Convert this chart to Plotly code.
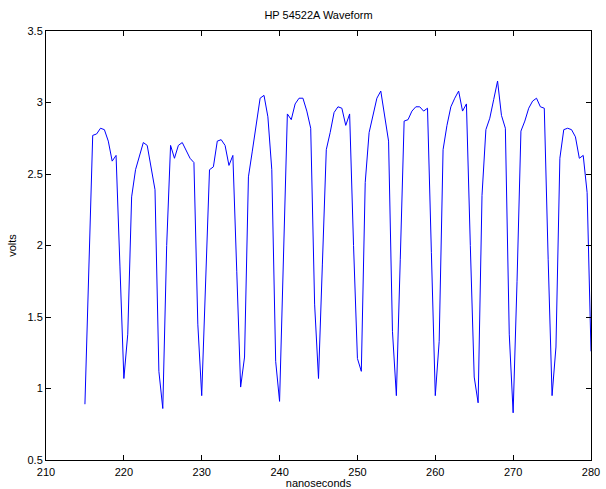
import plotly.graph_objects as go

time_ns = [
    215.0, 215.5, 216.0, 216.5, 217.0, 217.5, 218.0, 218.5, 219.0, 219.5,
    220.0, 220.5, 221.0, 221.5, 222.0, 222.5, 223.0, 223.5, 224.0, 224.5,
    225.0, 225.5, 226.0, 226.5, 227.0, 227.5, 228.0, 228.5, 229.0, 229.5,
    230.0, 230.5, 231.0, 231.5, 232.0, 232.5, 233.0, 233.5, 234.0, 234.5,
    235.0, 235.5, 236.0, 236.5, 237.0, 237.5, 238.0, 238.5, 239.0, 239.5,
    240.0, 240.5, 241.0, 241.5, 242.0, 242.5, 243.0, 243.5, 244.0, 244.5,
    245.0, 245.5, 246.0, 246.5, 247.0, 247.5, 248.0, 248.5, 249.0, 249.5,
    250.0, 250.5, 251.0, 251.5, 252.0, 252.5, 253.0, 253.5, 254.0, 254.5,
    255.0, 255.5, 256.0, 256.5, 257.0, 257.5, 258.0, 258.5, 259.0, 259.5,
    260.0, 260.5, 261.0, 261.5, 262.0, 262.5, 263.0, 263.5, 264.0, 264.5,
    265.0, 265.5, 266.0, 266.5, 267.0, 267.5, 268.0, 268.5, 269.0, 269.5,
    270.0, 270.5, 271.0, 271.5, 272.0, 272.5, 273.0, 273.5, 274.0, 274.5,
    275.0, 275.5, 276.0, 276.5, 277.0, 277.5, 278.0, 278.5, 279.0, 279.5,
    280.0,
]

volts = [
    0.89, 1.90, 2.77, 2.78, 2.82, 2.81, 2.73, 2.59, 2.63, 1.85,
    1.07, 1.38, 2.34, 2.53, 2.63, 2.72, 2.70, 2.54, 2.39, 1.12,
    0.86, 2.00, 2.70, 2.61, 2.70, 2.72, 2.67, 2.61, 2.58, 1.45,
    0.95, 1.70, 2.53, 2.55, 2.73, 2.74, 2.70, 2.56, 2.63, 1.82,
    1.01, 1.22, 2.48, 2.66, 2.84, 3.03, 3.05, 2.90, 2.53, 1.19,
    0.91, 1.91, 2.92, 2.88, 2.99, 3.03, 3.03, 2.94, 2.82, 1.59,
    1.07, 1.87, 2.67, 2.79, 2.93, 2.97, 2.96, 2.84, 2.92, 2.00,
    1.21, 1.12, 2.44, 2.79, 2.90, 3.03, 3.08, 2.90, 2.73, 1.40,
    0.95, 1.90, 2.87, 2.88, 2.94, 2.97, 2.97, 2.94, 2.96, 1.95,
    0.95, 1.33, 2.67, 2.84, 2.97, 3.03, 3.08, 2.94, 2.99, 2.00,
    1.08, 0.90, 2.35, 2.81, 2.89, 3.02, 3.15, 2.91, 2.82, 1.38,
    0.83, 1.75, 2.80, 2.87, 2.96, 3.01, 3.03, 2.97, 2.96, 1.90,
    0.95, 1.29, 2.61, 2.81, 2.82, 2.81, 2.76, 2.61, 2.63, 2.37,
    1.26,
]

x_ticks = [210, 220, 230, 240, 250, 260, 270, 280]
y_ticks = [0.5, 1, 1.5, 2, 2.5, 3, 3.5]
y_tick_text = ["0.5", "1", "1.5", "2", "2.5", "3", "3.5"]

font_family = "Liberation Sans, Arial, Helvetica, sans-serif"

fig = go.Figure()
fig.add_trace(go.Scatter(
    x=time_ns, y=volts, mode="lines",
    line=dict(color="#0000ff", width=1),
    showlegend=False, hoverinfo="x+y",
))

axis_common = dict(
    showgrid=False, zeroline=False,
    showline=True, linecolor="black", linewidth=1, mirror="allticks",
    ticks="inside", ticklen=5, tickwidth=1, tickcolor="black",
    tickfont=dict(family=font_family, size=11, color="black"),
)

fig.update_layout(
    width=606, height=489,
    margin=dict(l=46, r=15, t=31, b=29, autoexpand=False),
    paper_bgcolor="white", plot_bgcolor="white",
    font=dict(family=font_family, size=11, color="black"),
    title=dict(text="HP 54522A Waveform", x=(46 + 591) / 2 / 606, xanchor="center",
               y=1 - 15 / 489, yanchor="middle",
               font=dict(family=font_family, size=11, color="black")),
    xaxis=dict(range=[210, 280], tickvals=x_ticks, ticktext=[str(v) for v in x_ticks],
               ticklabelstandoff=2,
               title=dict(text="nanoseconds", standoff=3,
                          font=dict(family=font_family, size=11, color="black")),
               automargin=False, **axis_common),
    yaxis=dict(range=[0.5, 3.5], tickvals=y_ticks, ticktext=y_tick_text,
               title=dict(text="volts", standoff=8,
                          font=dict(family=font_family, size=11, color="black")),
               automargin=False, **axis_common),
)

fig.write_html("out.html")
